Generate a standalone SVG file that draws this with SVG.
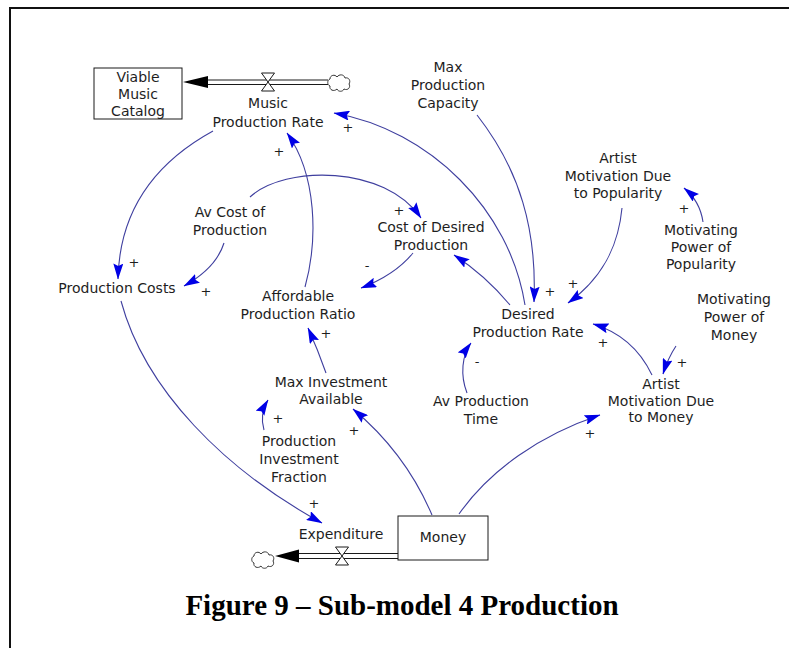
<svg xmlns="http://www.w3.org/2000/svg" width="789" height="648" viewBox="0 0 789 648">
  <style>
    .lbl { font-family: "DejaVu Sans", Verdana, sans-serif; font-size: 14px; fill: #1e1e1e; text-anchor: middle; }
    .sign { font-family: "DejaVu Sans", Verdana, sans-serif; font-size: 13px; fill: #1e1e1e; text-anchor: middle; }
    .stock { fill: #ffffff; stroke: #1a1a1a; stroke-width: 1; }
    .pipe { stroke: #1a1a1a; stroke-width: 1; fill: none; }
    .valve { fill: #ffffff; stroke: #1a1a1a; stroke-width: 1; }
    .cloud { fill: #ffffff; stroke: #333333; stroke-width: 1; }
    .link { fill: none; stroke: #3f3f9f; stroke-width: 1.1; marker-end: url(#arr); }
    .caption { font-family: "Liberation Serif", "Times New Roman", serif; font-size: 29px; font-weight: bold; fill: #000; text-anchor: middle; }
  </style>
  <defs>
    <marker id="arr" markerUnits="userSpaceOnUse" markerWidth="16" markerHeight="10" viewBox="0 0 16 10" refX="15.5" refY="5" orient="auto">
      <path d="M0,0 L16,5 L0,10 L2.5,5 Z" fill="#0000e6"/>
    </marker>
    <path id="cloudShape" d="M-9,-4 C-9,-8 -4,-9 -2,-6 C0,-9 5,-9 6,-5 C10,-6 12,-2 10,1 C12,4 9,8 5,6 C4,9 -1,9 -2,6 C-5,9 -10,7 -9,3 C-12,2 -12,-3 -9,-4 Z"/>
    <path id="valveShape" d="M-6.5,-9 L6.5,-9 L0,0 Z M-6.5,9 L6.5,9 L0,0 Z"/>
  </defs>

  <rect width="789" height="648" fill="#ffffff"/>

  <!-- frame -->
  <path d="M10,648 L10,8 L789,8" fill="none" stroke="#111" stroke-width="2"/>

  <!-- connectors -->
  <g id="connectors">
    <path class="link" d="M213,131 Q120,182 118,279"/>
    <path class="link" d="M224,243 C218,262 202,276 184,286"/>
    <path class="link" d="M250,197 C285,165 385,165 421,218"/>
    <path class="link" d="M305,287 C318,240 317,175 287,133"/>
    <path class="link" d="M525,305 C510,210 430,130 334,113"/>
    <path class="link" d="M477,115 C520,170 537,230 534,302"/>
    <path class="link" d="M510,305 Q485,275 454,255"/>
    <path class="link" d="M413,253 Q395,275 361,288"/>
    <path class="link" d="M622,208 C618,250 600,280 568,303"/>
    <path class="link" d="M703,222 C701,208 695,197 684,188"/>
    <path class="link" d="M676,346 Q668,358 663,374"/>
    <path class="link" d="M652,375 C640,350 620,332 593,324"/>
    <path class="link" d="M467,393 C460,375 462,355 471,343"/>
    <path class="link" d="M459,514 C490,470 540,435 600,415"/>
    <path class="link" d="M432,515 C415,475 390,440 353,409"/>
    <path class="link" d="M326,373 Q318,350 308,328"/>
    <path class="link" d="M264,430 C261,420 262,410 268,400"/>
    <path class="link" d="M121,301 C145,390 225,470 322,523"/>
    <!-- polarities -->
    <text class="sign" x="134" y="267">+</text>
    <text class="sign" x="206" y="296">+</text>
    <text class="sign" x="399" y="215">+</text>
    <text class="sign" x="279" y="156">+</text>
    <text class="sign" x="348" y="132">+</text>
    <text class="sign" x="550" y="296">+</text>
    <text class="sign" x="367" y="270">-</text>
    <text class="sign" x="573" y="288">+</text>
    <text class="sign" x="684" y="213">+</text>
    <text class="sign" x="682" y="367">+</text>
    <text class="sign" x="603" y="347">+</text>
    <text class="sign" x="477" y="366">-</text>
    <text class="sign" x="590" y="438">+</text>
    <text class="sign" x="354" y="435">+</text>
    <text class="sign" x="326" y="338">+</text>
    <text class="sign" x="278" y="423">+</text>
    <text class="sign" x="314" y="508">+</text>
  </g>

  <!-- stock: Viable Music Catalog -->
  <g id="viable-music-catalog">
    <rect class="stock" x="94" y="68" width="88" height="51"/>
    <text class="lbl"><tspan x="138" y="82">Viable</tspan><tspan x="138" y="99">Music</tspan><tspan x="138" y="116">Catalog</tspan></text>
  </g>

  <!-- flow: Music Production Rate -->
  <g id="music-production-rate">
    <line class="pipe" x1="205" y1="80" x2="328" y2="80"/>
    <line class="pipe" x1="205" y1="84.5" x2="328" y2="84.5"/>
    <path d="M183,82 L208,76 L208,88 Z" fill="#000"/>
    <use href="#valveShape" class="valve" transform="translate(268,82)"/>
    <use href="#cloudShape" class="cloud" transform="translate(339,83)"/>
    <text class="lbl"><tspan x="268" y="108">Music</tspan><tspan x="268" y="127">Production Rate</tspan></text>
  </g>

  <g id="max-production-capacity">
    <text class="lbl"><tspan x="448" y="72">Max</tspan><tspan x="448" y="90">Production</tspan><tspan x="448" y="108">Capacity</tspan></text>
  </g>

  <g id="artist-motivation-popularity">
    <text class="lbl"><tspan x="618" y="163">Artist</tspan><tspan x="618" y="181">Motivation Due</tspan><tspan x="618" y="198">to Popularity</tspan></text>
  </g>

  <g id="motivating-power-popularity">
    <text class="lbl"><tspan x="701" y="235">Motivating</tspan><tspan x="701" y="252">Power of</tspan><tspan x="701" y="269">Popularity</tspan></text>
  </g>

  <g id="cost-of-desired-production">
    <text class="lbl"><tspan x="431" y="232">Cost of Desired</tspan><tspan x="431" y="250">Production</tspan></text>
  </g>

  <g id="av-cost-of-production">
    <text class="lbl"><tspan x="230" y="217">Av Cost of</tspan><tspan x="230" y="235">Production</tspan></text>
  </g>

  <g id="production-costs">
    <text class="lbl" x="117" y="293">Production Costs</text>
  </g>

  <g id="affordable-production-ratio">
    <text class="lbl"><tspan x="298" y="301">Affordable</tspan><tspan x="298" y="319">Production Ratio</tspan></text>
  </g>

  <g id="desired-production-rate">
    <text class="lbl"><tspan x="528" y="319">Desired</tspan><tspan x="528" y="337">Production Rate</tspan></text>
  </g>

  <g id="motivating-power-money">
    <text class="lbl"><tspan x="734" y="304">Motivating</tspan><tspan x="734" y="322">Power of</tspan><tspan x="734" y="340">Money</tspan></text>
  </g>

  <g id="av-production-time">
    <text class="lbl"><tspan x="481" y="406">Av Production</tspan><tspan x="481" y="424">Time</tspan></text>
  </g>

  <g id="artist-motivation-money">
    <text class="lbl"><tspan x="661" y="389">Artist</tspan><tspan x="661" y="406">Motivation Due</tspan><tspan x="661" y="422">to Money</tspan></text>
  </g>

  <g id="max-investment-available">
    <text class="lbl"><tspan x="331" y="387">Max Investment</tspan><tspan x="331" y="404">Available</tspan></text>
  </g>

  <g id="production-investment-fraction">
    <text class="lbl"><tspan x="299" y="446">Production</tspan><tspan x="299" y="464">Investment</tspan><tspan x="299" y="482">Fraction</tspan></text>
  </g>

  <!-- flow: Expenditure -->
  <g id="expenditure">
    <line class="pipe" x1="297" y1="553.5" x2="398" y2="553.5"/>
    <line class="pipe" x1="297" y1="558.5" x2="398" y2="558.5"/>
    <path d="M275,556 L299,549.5 L299,562.5 Z" fill="#000"/>
    <use href="#valveShape" class="valve" transform="translate(342,556)"/>
    <use href="#cloudShape" class="cloud" transform="translate(263,560)"/>
    <text class="lbl" x="341" y="539">Expenditure</text>
  </g>

  <!-- stock: Money -->
  <g id="money">
    <rect class="stock" x="398" y="516" width="90" height="44"/>
    <text class="lbl" x="443" y="542">Money</text>
  </g>

  <text class="caption" x="402" y="615">Figure 9 – Sub-model 4 Production</text>
</svg>
